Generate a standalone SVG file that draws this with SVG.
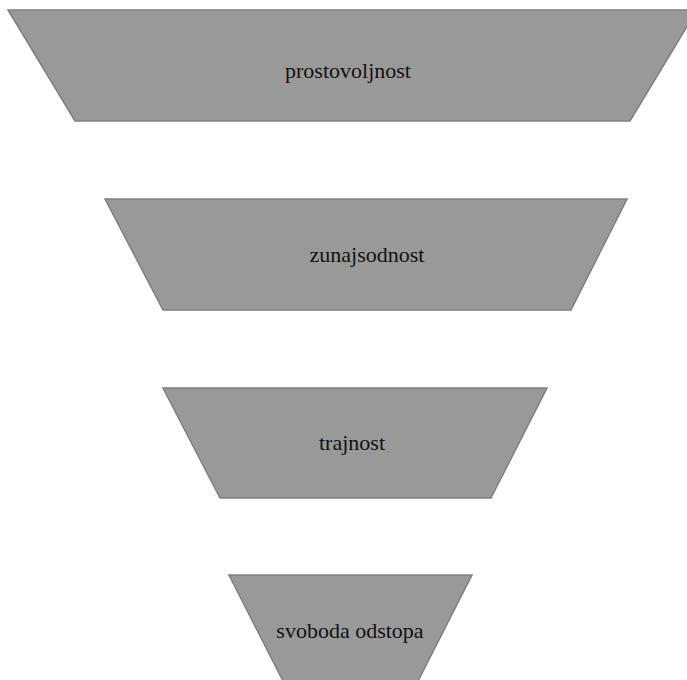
<svg xmlns="http://www.w3.org/2000/svg" width="687" height="680" viewBox="0 0 687 680">
<style>
.s{fill:#999999;stroke:#7f7f7f;stroke-width:1.5}
.t{font-family:"Liberation Serif","DejaVu Serif",serif;font-size:22px;fill:#111;text-anchor:middle}
</style>
<rect width="687" height="680" fill="#fff"/>
<g id="n1"><polygon class="s" points="8,10 697,10 630,121 75,121"/><text class="t" x="348" y="78">prostovoljnost</text></g>
<g id="n2"><polygon class="s" points="105,199 627,199 571,310 163,310"/><text class="t" x="367" y="262">zunajsodnost</text></g>
<g id="n3"><polygon class="s" points="163,388 547,388 491,498 220,498"/><text class="t" x="352" y="450">trajnost</text></g>
<g id="n4"><polygon class="s" points="229,575 472,575 415,687 286,687"/><text class="t" x="350" y="638">svoboda odstopa</text></g>
<g id="connectors"/>
</svg>
